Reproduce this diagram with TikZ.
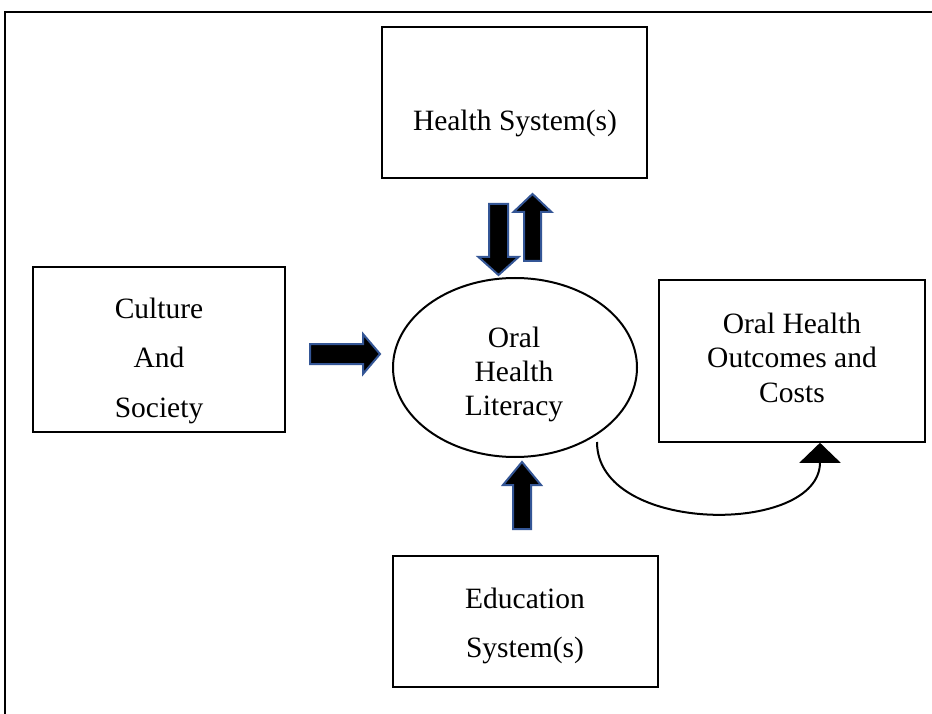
\documentclass[tikz,border=0pt]{standalone}
\usepackage{fontspec}
\setmainfont{Liberation Serif}
\usetikzlibrary{arrows.meta,shapes.geometric}
\definecolor{arrowblue}{RGB}{52,86,150}
% block arrow: start x, start y, angle, length, shaft half-width, head half-width, head length
\newcommand\blkarrow[7]{%
  \draw[blockarrow, shift={(#1,#2)}, rotate=#3]
    (0,#5) -- (#4-#7,#5) -- (#4-#7,#6) -- (#4,0) -- (#4-#7,-#6) -- (#4-#7,-#5) -- (0,-#5) -- cycle;}
\begin{document}
\begin{tikzpicture}[x=1pt,y=-1pt,
  font=\fontsize{29.5}{34}\selectfont,
  box/.style={draw=black, line width=1.6pt, rectangle, inner sep=0pt},
  txt/.style={align=center, inner sep=0pt},
  blockarrow/.style={fill=black, draw=arrowblue, line width=2pt, line join=miter},
  link/.style={line width=2pt, -{Triangle[width=41pt,length=20pt]}}]
\useasboundingbox (0,0) rectangle (932,714);
\fill[white] (0,0) rectangle (932,714);
% outer frame
\draw[line width=2.5pt] (5,714) -- (5,12) -- (932,12);

% boxes
\node[box, minimum width=265pt, minimum height=151pt] (health) at (514.5,102.5) {};
\node[txt] (healthtxt) at (515,123.2) {Health System(s)};

\node[box, minimum width=252pt, minimum height=165pt] (culture) at (159,349.5) {};
\node[txt, font=\fontsize{29.5}{49.5}\selectfont] (culturetxt) at (159,360.7) {Culture\\And\\Society};

\node[draw, ellipse, line width=2pt, minimum width=244pt, minimum height=179pt, inner sep=0pt] (ohl) at (515,367.5) {};
\node[txt] (ohltxt) at (514,374.2) {Oral\\Health\\Literacy};

\node[box, minimum width=266pt, minimum height=162pt] (outc) at (792,361) {};
\node[txt, font=\fontsize{29.5}{34.5}\selectfont] (outctxt) at (792,357.6) {Oral Health\\Outcomes and\\Costs};

\node[box, minimum width=265pt, minimum height=131pt] (edu) at (525.5,621.5) {};
\node[txt, font=\fontsize{29.5}{49}\selectfont] (edutxt) at (525,625.7) {Education\\System(s)};

% block arrows
\blkarrow{498.5}{204}{-90}{71}{9.5}{20}{18}
\blkarrow{532.5}{261}{90}{67}{8.5}{19}{18}
\blkarrow{310}{354}{0}{70}{10}{20}{17}
\blkarrow{522}{529}{90}{67}{9}{19}{23}

% curved connector to outcomes
\coordinate (cstart) at (597,442);
\coordinate (cend) at ([xshift=28pt]outc.south);
\draw[link] (cstart) .. controls +(0,93) and +(0,93) .. (cend);
\end{tikzpicture}
\end{document}
